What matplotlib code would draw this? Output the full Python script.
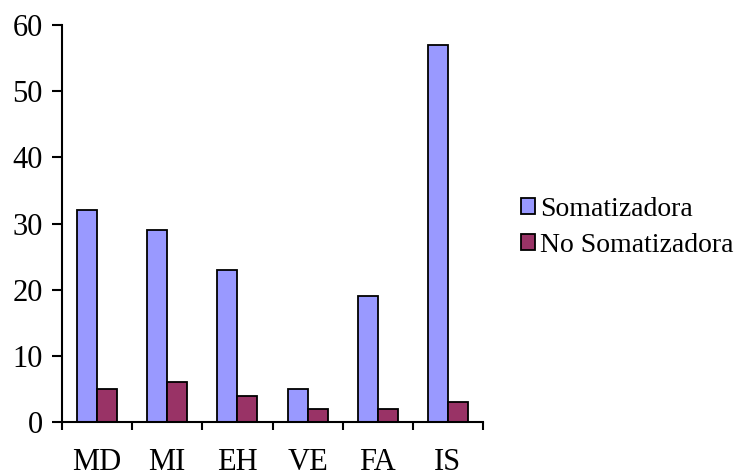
import numpy as np
import matplotlib
matplotlib.use("Agg")
import matplotlib.pyplot as plt

plt.rcParams['font.family'] = ['Liberation Serif', 'DejaVu Serif']

categorias = ["MD", "MI", "EH", "VE", "FA", "IS"]
somatizadora = [32, 29, 23, 5, 19, 57]
no_somatizadora = [5, 6, 4, 2, 2, 3]

fig = plt.figure(figsize=(7.41, 4.76), dpi=100)
ax = fig.add_axes([0.0837, 0.1134, 0.5681, 0.8341])

x = np.arange(len(categorias))
w = 0.285
ax.bar(x - w / 2, somatizadora, w, color="#9999FF", edgecolor="black", linewidth=1.3, label="Somatizadora")
ax.bar(x + w / 2, no_somatizadora, w, color="#993366", edgecolor="black", linewidth=1.3, label="No Somatizadora")

ax.set_xlim(-0.5, len(categorias) - 0.5)
ax.set_ylim(0, 60)
ax.set_yticks(range(0, 61, 10))
ax.set_xticks(x)
ax.set_xticklabels(categorias)
ax.set_xticks(np.arange(-0.5, len(categorias)), minor=True)
ax.tick_params(axis="x", which="major", length=0, pad=19, labelsize=22)
ax.tick_params(axis="x", which="minor", length=6, width=1.5, direction="out")
ax.tick_params(axis="y", length=7, width=1.5, labelsize=22, pad=7)

for s in ["top", "right"]:
    ax.spines[s].set_visible(False)
ax.spines["left"].set_linewidth(1.5)
ax.spines["bottom"].set_linewidth(1.5)

ax.legend(loc="center left", bbox_to_anchor=(1.05, 0.49), frameon=False, fontsize=20,
          handlelength=0.5, handleheight=0.5, handletextpad=0.2, labelspacing=0.4,
          borderaxespad=0.2)

fig.savefig("out.png", dpi=100)
